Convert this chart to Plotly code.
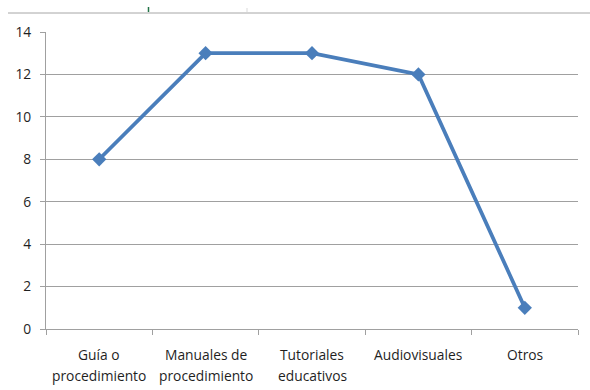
import plotly.graph_objects as go

categories = ["Guía o<br>procedimiento", "Manuales de<br>procedimiento",
              "Tutoriales<br>educativos", "Audiovisuales", "Otros"]
values = [8, 13, 13, 12, 1]
y_ticks = [0, 2, 4, 6, 8, 10, 12, 14]

W, H = 590, 390
L, R, T, B = 46, 12, 32, 61
pw, ph = W - L - R, H - T - B
FONT = "Open Sans, Liberation Sans, sans-serif"
TEXT = "#1f1f1f"
AXIS = "#a0a0a0"


def px_x(x):
    return (x - L) / pw


def px_y(y):
    return (H - B - y) / ph


fig = go.Figure(go.Scatter(
    x=categories, y=values, mode="lines+markers",
    line=dict(color="#4a7ebb", width=3.75),
    marker=dict(symbol="diamond", size=11, color="#4a7ebb"),
    cliponaxis=False,
))

# category labels, one annotation per text line
annotations = []
for cat in categories:
    for i, line in enumerate(cat.split("<br>")):
        annotations.append(dict(
            x=cat, xref="x", y=px_y(343 + 21 * i), yref="paper",
            text=line, showarrow=False, xanchor="center", yanchor="top",
            font=dict(family=FONT, size=13.8, color=TEXT),
        ))

fig.update_layout(
    width=W, height=H,
    margin=dict(l=L, r=R, t=T, b=B),
    paper_bgcolor="white", plot_bgcolor="white",
    showlegend=False,
    font=dict(family=FONT, size=13.8, color=TEXT),
    annotations=annotations,
    shapes=[
        dict(type="line", xref="paper", yref="paper",
             x0=px_x(8), x1=px_x(590), y0=px_y(13), y1=px_y(13),
             line=dict(color="#a6a6a6", width=1)),
        dict(type="line", xref="paper", yref="paper",
             x0=px_x(148.5), x1=px_x(148.5), y0=px_y(12), y1=px_y(7),
             line=dict(color="#217346", width=1.5)),
        dict(type="line", xref="paper", yref="paper",
             x0=px_x(247), x1=px_x(247), y0=px_y(12), y1=px_y(8),
             line=dict(color="#d9d9d9", width=1)),
    ],
)

fig.update_xaxes(
    type="category", tickson="boundaries", range=[-0.5, len(categories) - 0.5],
    showline=True, linecolor=AXIS, linewidth=1,
    ticks="outside", ticklen=5, tickcolor=AXIS,
    showgrid=False, showticklabels=False,
)
fig.update_yaxes(
    range=[0, 14], tickvals=y_ticks,
    showline=True, linecolor=AXIS, linewidth=1,
    ticks="outside", ticklen=5, tickcolor=AXIS,
    showgrid=True, gridcolor=AXIS, gridwidth=1,
    zeroline=False, ticklabelstandoff=6,
    tickfont=dict(family=FONT, size=13.8, color=TEXT),
)

fig.write_html("out.html")
